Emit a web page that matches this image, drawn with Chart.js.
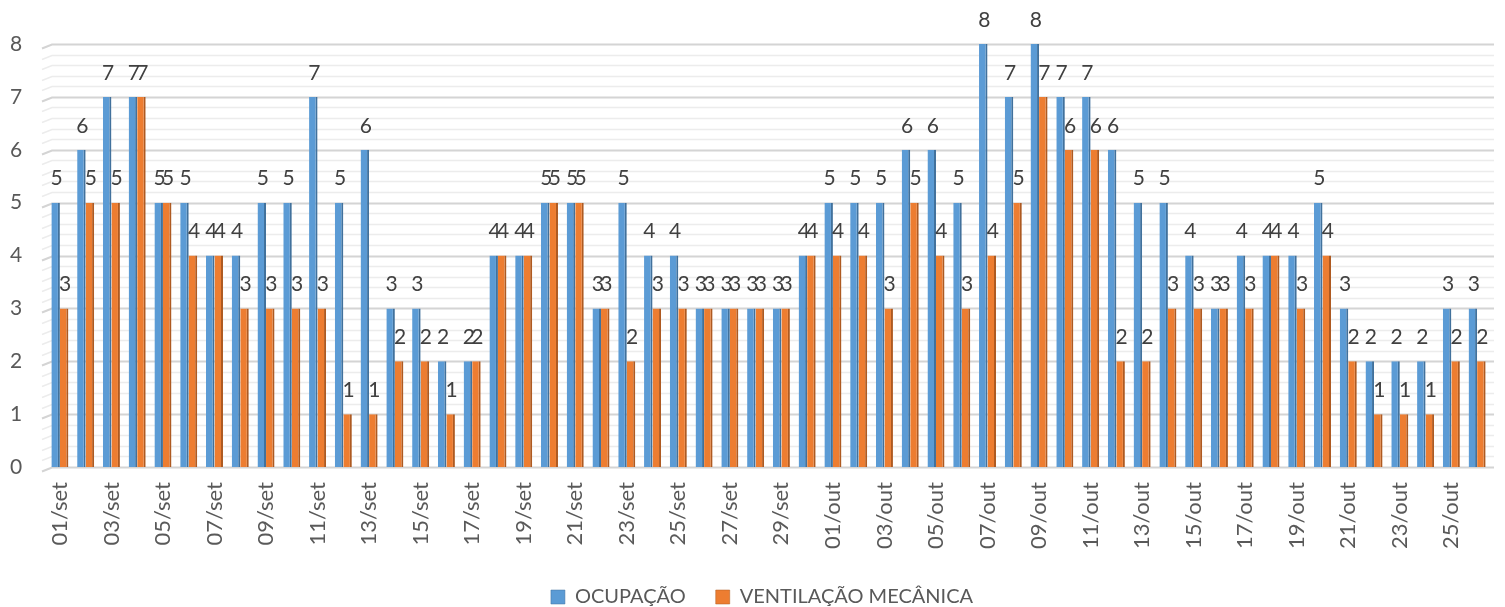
<!DOCTYPE html>
<html><head><meta charset="utf-8">
<script src="https://cdn.jsdelivr.net/npm/chart.js@4/dist/chart.umd.min.js"></script>
<style>html,body{margin:0;padding:0;background:#fff}#wrap{width:1505px;height:607px}</style>
</head><body><div id="wrap"><canvas id="c" width="1505" height="607"></canvas></div>
<script>
const categories = ["01/set","02/set","03/set","04/set","05/set","06/set","07/set","08/set","09/set","10/set",
"11/set","12/set","13/set","14/set","15/set","16/set","17/set","18/set","19/set","20/set",
"21/set","22/set","23/set","24/set","25/set","26/set","27/set","28/set","29/set","30/set",
"01/out","02/out","03/out","04/out","05/out","06/out","07/out","08/out","09/out","10/out",
"11/out","12/out","13/out","14/out","15/out","16/out","17/out","18/out","19/out","20/out",
"21/out","22/out","23/out","24/out","25/out","26/out"];
const ocupacao = [5,6,7,7,5,5,4,4,5,5, 7,5,6,3,3,2,2,4,4,5, 5,3,5,4,4,3,3,3,3,4,
5,5,5,6,6,5,8,7,8,7, 7,6,5,5,4,3,4,4,4,5, 3,2,2,2,3,3];
const ventilacao = [3,5,5,7,5,4,4,3,3,3, 3,1,1,2,2,1,2,4,4,5, 5,3,2,3,3,3,3,3,3,4,
4,4,3,5,4,3,4,5,7,6, 6,2,2,3,3,3,3,4,3,4, 2,1,1,1,2,2];
const yTicks = [0,1,2,3,4,5,6,7,8];

const FONT = "Lato, 'Open Sans', sans-serif";

const gridPlugin = {
  id: 'grid3d',
  beforeDatasetsDraw(chart) {
    const ctx = chart.ctx, y = chart.scales.y, a = chart.chartArea;
    ctx.save();
    for (let i = 0; i <= 40; i++) {
      const v = i / 5;
      const py = Math.round(y.getPixelForValue(v)) + 0.5;
      const major = i % 5 === 0;
      ctx.strokeStyle = major ? '#d4d4d4' : '#ececec';
      ctx.lineWidth = major ? 2 : 1.5;
      ctx.beginPath();
      ctx.moveTo(a.left - 5, py + 4);
      ctx.lineTo(a.left + 5, py);
      ctx.lineTo(a.right + 4, py);
      ctx.stroke();
    }
    ctx.restore();
  }
};

const labelPlugin = {
  id: 'vlabels',
  afterDatasetsDraw(chart) {
    const ctx = chart.ctx;
    ctx.save();
    ctx.font = "21px " + FONT;
    ctx.fillStyle = '#404040';
    ctx.textAlign = 'center';
    ctx.textBaseline = 'middle';
    chart.data.datasets.forEach((ds, di) => {
      chart.getDatasetMeta(di).data.forEach((el, i) => {
        ctx.fillText(String(ds.data[i]), el.x + 1, el.y - 24);
      });
    });
    ctx.restore();
  }
};

new Chart(document.getElementById('c'), {
  type: 'bar',
  data: {
    labels: categories,
    datasets: [
      { label: 'OCUPAÇÃO', data: ocupacao, backgroundColor: '#5B9BD5', borderColor: '#41719C',
        borderWidth: {top:0,left:0,bottom:0,right:2}, borderSkipped: false },
      { label: 'VENTILAÇÃO MECÂNICA', data: ventilacao, backgroundColor: '#ED7D31', borderColor: '#AE5A21',
        borderWidth: {top:0,left:0,bottom:0,right:2}, borderSkipped: false }
    ]
  },
  options: {
    responsive: false,
    animation: false,
    devicePixelRatio: 1,
    layout: { padding: { top: 44, right: 15, left: 34, bottom: -10 } },
    datasets: { bar: { categoryPercentage: 0.66, barPercentage: 1.0 } },
    plugins: {
      legend: {
        position: 'bottom',
        labels: { font: { size: 20, family: FONT }, color: '#595959', boxWidth: 14, boxHeight: 14, padding: 30 }
      },
      tooltip: { enabled: false }
    },
    scales: {
      x: {
        grid: { display: false, drawTicks: false },
        border: { display: false },
        ticks: {
          autoSkip: false, maxRotation: 90, minRotation: 90, padding: 15,
          font: { size: 22, family: FONT }, color: '#595959',
          callback: function(v, i) { return i % 2 === 0 ? this.getLabelForValue(v) : ''; }
        },
        afterFit(s) { s.height = 90; s.paddingLeft = 0; s.paddingRight = 0; }
      },
      y: {
        min: 0, max: 8,
        afterBuildTicks(s) { s.ticks = yTicks.map(v => ({ value: v })); },
        grid: { display: false, drawTicks: false },
        border: { display: false },
        ticks: { mirror: true, font: { size: 21, family: FONT }, color: '#595959', padding: -37 },
        afterFit(s) { s.width = 13; s.paddingTop = 0; s.paddingBottom = 0; }
      }
    }
  },
  plugins: [gridPlugin, labelPlugin]
});
</script></body></html>
